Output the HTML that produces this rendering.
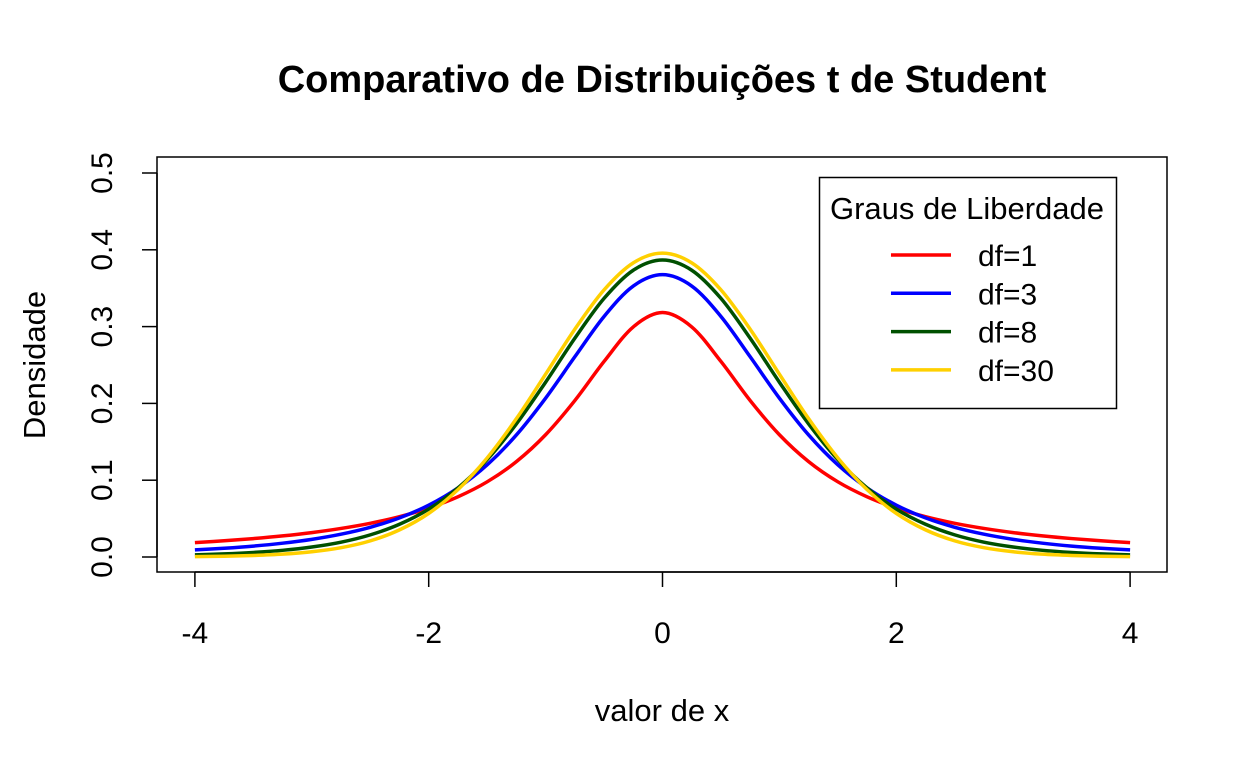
<!DOCTYPE html>
<html><head><meta charset="utf-8"><style>
body{margin:0;background:#fff}
svg{display:block;font-family:"Liberation Sans",Arial,sans-serif}
</style></head><body>
<svg id="chart" width="1248" height="768" viewBox="0 0 1248 768">
<text x="662" y="92" text-anchor="middle" font-size="38" font-weight="bold">Comparativo de Distribuições t de Student</text>
<rect x="157" y="157" width="1010" height="415" fill="none" stroke="#000" stroke-width="1.5"/>
<g id="xaxis"></g>
<g id="yaxis"></g>
<g id="series"></g>
<text x="662" y="721" text-anchor="middle" font-size="31">valor de x</text>
<text transform="translate(45,365) rotate(-90)" text-anchor="middle" font-size="31">Densidade</text>
<g id="legend">
<rect x="819.5" y="177.5" width="297" height="231" fill="#fff" stroke="#000" stroke-width="1.5"/>
<text x="967" y="219" text-anchor="middle" font-size="31">Graus de Liberdade</text>
</g>
</svg>
<script>
const xs=[-4,-3.75,-3.5,-3.25,-3,-2.75,-2.5,-2.25,-2,-1.75,-1.5,-1.25,-1,-0.75,-0.5,-0.25,0,0.25,0.5,0.75,1,1.25,1.5,1.75,2,2.25,2.5,2.75,3,3.25,3.5,3.75,4];
const df1=[0.0187,0.0211,0.0240,0.0275,0.0318,0.0372,0.0439,0.0525,0.0637,0.0784,0.0979,0.1242,0.1592,0.2037,0.2546,0.2996,0.3183,0.2996,0.2546,0.2037,0.1592,0.1242,0.0979,0.0784,0.0637,0.0525,0.0439,0.0372,0.0318,0.0275,0.0240,0.0211,0.0187];
const df3=[0.0092,0.0114,0.0142,0.0180,0.0230,0.0297,0.0387,0.0509,0.0675,0.0900,0.1200,0.1589,0.2068,0.2607,0.3132,0.3528,0.3676,0.3528,0.3132,0.2607,0.2068,0.1589,0.1200,0.0900,0.0675,0.0509,0.0387,0.0297,0.0230,0.0180,0.0142,0.0114,0.0092];
const df8=[0.0028,0.0040,0.0059,0.0087,0.0130,0.0193,0.0288,0.0426,0.0623,0.0899,0.1268,0.1733,0.2276,0.2848,0.3367,0.3734,0.3867,0.3734,0.3367,0.2848,0.2276,0.1733,0.1268,0.0899,0.0623,0.0426,0.0288,0.0193,0.0130,0.0087,0.0059,0.0040,0.0028];
const df30=[0.0005,0.0010,0.0020,0.0037,0.0068,0.0121,0.0210,0.0353,0.0568,0.0877,0.1290,0.1801,0.2380,0.2966,0.3478,0.3830,0.3956,0.3830,0.3478,0.2966,0.2380,0.1801,0.1290,0.0877,0.0568,0.0353,0.0210,0.0121,0.0068,0.0037,0.0020,0.0010,0.0005];
const seriesNames=["df=1","df=3","df=8","df=30"];
const seriesColors=["#ff0000","#0000ff","#005000","#ffd000"];
const xTicks=[-4,-2,0,2,4];
const xTickLabels=["-4","-2","0","2","4"];
const yTicks=[0,0.1,0.2,0.3,0.4,0.5];
const yTickLabels=["0.0","0.1","0.2","0.3","0.4","0.5"];

const NS="http://www.w3.org/2000/svg";
const X=v=>662.5+v*116.9;
const Y=v=>557-v*768;
function mk(t,a){const e=document.createElementNS(NS,t);for(const k in a)e.setAttribute(k,a[k]);return e;}
const xa=document.getElementById('xaxis');
const xl=mk('line',{x1:X(xTicks[0]),x2:X(xTicks[xTicks.length-1]),y1:572,y2:572,stroke:'#000','stroke-width':1.5});


xa.appendChild(xl);
xTicks.forEach((t,i)=>{
 const l=mk('line',{x1:X(t),x2:X(t),y1:572,y2:587,stroke:'#000','stroke-width':1.5});
 
 
 xa.appendChild(l);
 const tx=mk('text',{x:X(t),y:643,'text-anchor':'middle','font-size':30});
 
 
 tx.textContent=xTickLabels[i];xa.appendChild(tx);
});
const ya=document.getElementById('yaxis');
const yl=mk('line',{x1:157,x2:157,y1:Y(yTicks[0]),y2:Y(yTicks[yTicks.length-1]),stroke:'#000','stroke-width':1.5});


ya.appendChild(yl);
yTicks.forEach((t,i)=>{
 const l=mk('line',{x1:142,x2:157,y1:Y(t),y2:Y(t),stroke:'#000','stroke-width':1.5});
 
 
 ya.appendChild(l);
 const tx=mk('text',{transform:`translate(112,${Y(t)}) rotate(-90)`,'text-anchor':'middle','font-size':30});
 
 
 tx.textContent=yTickLabels[i];ya.appendChild(tx);
});
function pathFor(ys){
 const p=xs.map((x,i)=>[X(x),Y(ys[i])]);
 let d=`M${p[0][0]},${p[0][1]}`;
 for(let i=0;i<p.length-1;i++){
  const p0=p[i-1]||p[i],p1=p[i],p2=p[i+1],p3=p[i+2]||p2;
  const c1=[p1[0]+(p2[0]-p0[0])/6,p1[1]+(p2[1]-p0[1])/6];
  const c2=[p2[0]-(p3[0]-p1[0])/6,p2[1]-(p3[1]-p1[1])/6];
  d+=`C${c1[0]},${c1[1]} ${c2[0]},${c2[1]} ${p2[0]},${p2[1]}`;
 }
 return d;
}
const sg=document.getElementById('series');
const allSeries=[df1,df3,df8,df30];
allSeries.forEach((s,i)=>{
 const pa=mk('path',{d:pathFor(s),fill:'none',stroke:seriesColors[i],'stroke-width':3.5});
 
 
 sg.appendChild(pa);
});
const lg=document.getElementById('legend');
seriesNames.forEach((n,i)=>{
 const y=255+i*38.3;
 const l=mk('line',{x1:891,x2:951,y1:y,y2:y,stroke:seriesColors[i],'stroke-width':3.5});
 
 
 lg.appendChild(l);
 const t=mk('text',{x:978,y:y+11,'font-size':30});
 
 
 t.textContent=n;lg.appendChild(t);
});
</script>
</body></html>
